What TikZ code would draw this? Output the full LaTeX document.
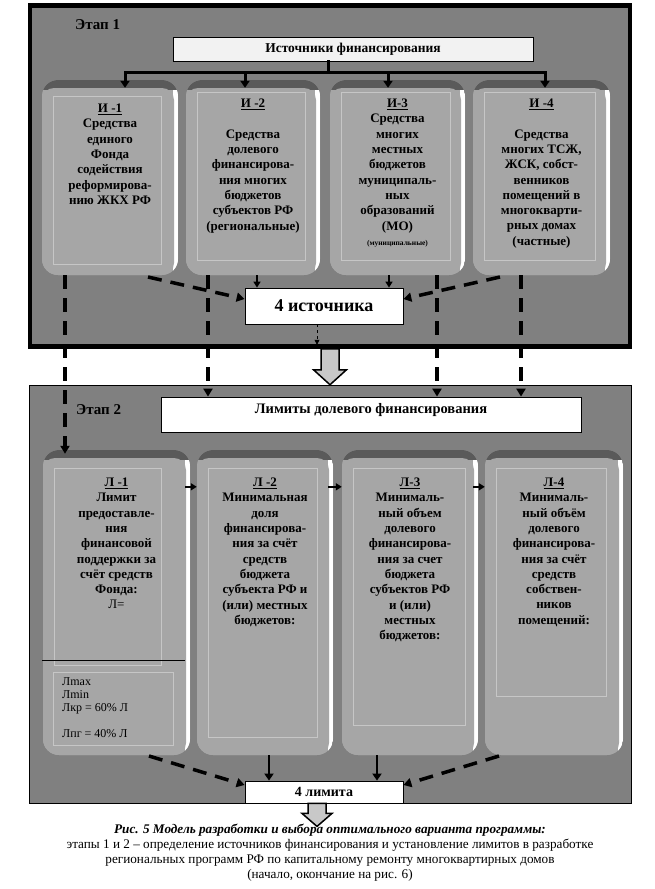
\documentclass[tikz,border=0pt]{standalone}
\usepackage{fontspec}
\setmainfont{Liberation Serif}
\usetikzlibrary{positioning,arrows.meta}

\definecolor{framegray}{HTML}{808080}
\definecolor{facegray}{HTML}{A6A6A6}
\definecolor{topgray}{HTML}{5A5A5A}
\definecolor{innerline}{HTML}{C6C6C6}
\definecolor{srcfill}{HTML}{F2F2F2}
\definecolor{arrowgray}{HTML}{C8C8C8}

\begin{document}
\begin{tikzpicture}[x=1pt, y=1pt,
    stagebox/.style={draw, fill=framegray, inner sep=0pt},
    bevel/.style n args={3}{rectangle, rounded corners=16pt, fill=facegray, inner sep=0pt,
      path picture={
        \fill[topgray, sharp corners] (path picture bounding box.north west) rectangle ([yshift=-10pt]path picture bounding box.north east);
        \fill[white, sharp corners] ([xshift=-5pt,yshift=-10pt]path picture bounding box.north east) rectangle (path picture bounding box.south east);
        \fill[facegray, rounded corners=12pt] ([yshift=-8pt]path picture bounding box.north west) rectangle ([xshift=-4pt]path picture bounding box.south east);
        \draw[innerline, sharp corners, line width=0.8pt] ([shift={(11,-#1)}]path picture bounding box.north west) rectangle ([shift={(-#2,#3)}]path picture bounding box.south east);
      }},
    ibox/.style={bevel={12}{15}{15}, minimum height=195pt},
    lbox/.style={minimum height=305pt},
    btext/.style={align=center, inner sep=0pt, font=\bfseries\fontsize{13}{15.3}\selectfont},
    whitebox/.style={draw, fill=white, inner sep=0pt, line width=0.8pt},
    stagelabel/.style={anchor=west, inner sep=0pt, font=\bfseries\fontsize{15}{17}\selectfont},
    trunk/.style={line width=3pt, line cap=rect},
    trunkarrow/.style={line width=3pt, -{Triangle[length=7pt,width=9pt]}},
    shortarrow/.style={line width=2pt, -{Triangle[length=6pt,width=7pt]}},
    dasharrow/.style={line width=3.5pt, dash pattern=on 14pt off 9pt, -{Triangle[length=8pt,width=9pt]}},
    thindash/.style={line width=0.8pt, dashed, -{Triangle[length=5pt,width=5pt]}},
    hollow/.style={draw, line width=1.5pt, fill=arrowgray, line join=miter},
  ]
\useasboundingbox (0,0) rectangle (654,-889);

% Stage 1
\node[stagebox, line width=4.5pt, minimum width=600pt, minimum height=341pt] (st1) at (330,-176) {};
\node[stagelabel] (st1lbl) at (75,-25) {Этап 1};
\node[draw, fill=srcfill, line width=0.8pt, minimum width=360pt, minimum height=24pt, inner sep=0pt,
      font=\bfseries\fontsize{13.5}{15}\selectfont] (src) at (353,-49) {Источники финансирования};

\node[ibox, minimum width=136pt, bevel={16}{17}{11}] (i1) at (110,-177.5) {};
\node[ibox, minimum width=134pt] (i2) at (253,-177.5) {};
\node[ibox, minimum width=135pt] (i3) at (397.5,-177.5) {};
\node[ibox, minimum width=137pt] (i4) at (541.5,-177.5) {};

\node[btext, below=24pt of i1.north] (i1t) {\underline{И -1}\\Средства\\единого\\Фонда\\содействия\\реформирова-\\нию ЖКХ РФ};
\node[btext, below=19pt of i2.north] (i2t) {\underline{И -2}\\[15.3pt]Средства\\долевого\\финансирова-\\ния многих\\бюджетов\\субъектов РФ\\(региональные)};
\node[btext, below=19pt of i3.north] (i3t) {\underline{И-3}\\Средства\\многих\\местных\\бюджетов\\муниципаль-\\ных\\образований\\(МО)\\{\fontsize{7.5}{9}\selectfont(муниципальные)}};
\node[btext, below=19pt of i4.north] (i4t) {\underline{И -4}\\[15.3pt]Средства\\многих ТСЖ,\\ЖСК, собст-\\венников\\помещений в\\многокварти-\\рных домах\\(частные)};

\node[whitebox, minimum width=158pt, minimum height=36pt, font=\bfseries\fontsize{18}{20}\selectfont] (q4) at (324,-306) {4 источника};

% fork from the sources header
\draw[trunk] ([xshift=-25pt]src.south) -- ++(0,-11);
\coordinate (forkl) at (125,-72);
\coordinate (forkr) at (545,-72);
\draw[trunk] (forkl) -- (forkr);
\foreach \x/\b in {125/i1, 245/i2, 388/i3, 545/i4}
  \draw[trunkarrow, shorten >=-8pt] (\x,-72) -- (\x,-72 |- \b.north);

\draw[shortarrow] (i2.south -| 257,0) -- (q4.north -| 257,0);
\draw[shortarrow] (i3.south -| 389,0) -- (q4.north -| 389,0);
\coordinate (du1) at (148,-277);
\coordinate (du2) at (500,-277);
\draw[dasharrow] (du1) -- ([yshift=7pt]q4.west);
\draw[dasharrow] (du2) -- ([yshift=7pt]q4.east);
\draw[thindash, shorten >=4pt] (q4.south -| 317,0) -- (st1.south -| 317,0);

% Stage 2
\node[stagebox, line width=1pt, minimum width=602pt, minimum height=418pt] (st2) at (330,-594) {};
\node[stagelabel] (st2lbl) at (76,-410) {Этап 2};
\node[whitebox, minimum width=420pt, minimum height=35pt, text depth=12pt,
      font=\bfseries\fontsize{14.5}{16}\selectfont] (lim) at (371,-414.5) {Лимиты долевого финансирования};

\draw[hollow] ([xshift=-9pt]st1.south) -- ++(0,-21) -- ++(-7.5,0) -- ++(16.5,-15) -- ++(16.5,15) -- ++(-7.5,0) -- ++(0,21) -- cycle;

\node[lbox, bevel={18}{29}{90}, minimum width=147pt] (l1) at (116.5,-602.5) {};
\node[lbox, bevel={18}{16}{18}, minimum width=136pt] (l2) at (265,-602.5) {};
\node[lbox, bevel={18}{13}{30}, minimum width=136pt] (l3) at (410,-602.5) {};
\node[lbox, bevel={18}{17}{59}, minimum width=138pt] (l4) at (554,-602.5) {};

\node[btext, below=28pt of l1.north] (l1t) {\underline{Л -1}\\Лимит\\предоставле-\\ния\\финансовой\\поддержки за\\счёт средств\\Фонда:\\{\mdseries Л=}};
\node[btext, below=28pt of l2.north] (l2t) {\underline{Л -2}\\Минимальная\\доля\\финансирова-\\ния за счёт\\средств\\бюджета\\субъекта РФ и\\(или) местных\\бюджетов:};
\node[btext, below=28pt of l3.north] (l3t) {\underline{Л-3}\\Минималь-\\ный объем\\долевого\\финансирова-\\ния за счет\\бюджета\\субъектов РФ\\и (или)\\местных\\бюджетов:};
\node[btext, below=28pt of l4.north] (l4t) {\underline{Л-4}\\Минималь-\\ный объём\\долевого\\финансирова-\\ния за счёт\\средств\\собствен-\\ников\\помещений:};

% lower part of L-1
\draw[line width=0.8pt] (42,-660) -- (185,-660);
\node[draw=innerline, line width=0.8pt, minimum width=120pt, minimum height=73pt, inner sep=0pt] (l1box) at (113,-708.5) {};
\node[anchor=north west, align=left, inner sep=0pt, font=\fontsize{12}{13}\selectfont] (l1notes) at (62,-677) {Лmax\\Лmin\\Лкр = 60\% Л\\[13pt]Лпг = 40\% Л};

\foreach \a/\b in {l1/l2, l2/l3, l3/l4}
  \draw[shortarrow] ([xshift=-5pt,yshift=-37pt]\a.north east) -- ([yshift=-37pt]\b.north west);

\node[whitebox, minimum width=158pt, minimum height=22pt, font=\bfseries\fontsize{14}{15}\selectfont] (lim4) at (324,-792) {4 лимита};

% links from stage 1 to stage 2
\draw[dasharrow, shorten >=-4pt] (i1.south -| 65,0) -- (l1.north -| 65,0);
\draw[dasharrow] (i2.south -| 208,0) -- (lim.north -| 208,0);
\draw[dasharrow] (i3.south -| 437,0) -- (lim.north -| 437,0);
\draw[dasharrow] (i4.south -| 521,0) -- (lim.north -| 521,0);

\draw[trunkarrow, line width=2.5pt] (l2.south -| 269,0) -- (lim4.north -| 269,0);
\draw[trunkarrow, line width=2.5pt] (l3.south -| 377,0) -- (lim4.north -| 377,0);
\coordinate (dl1) at (149,-756);
\coordinate (dl2) at (499,-756);
\draw[dasharrow] (dl1) -- ([yshift=7pt]lim4.west);
\draw[dasharrow] (dl2) -- ([yshift=7pt]lim4.east);

\draw[hollow] ([xshift=-16pt]lim4.south) -- ++(0,-10) -- ++(-6,0) -- ++(15,-13) -- ++(15,13) -- ++(-6,0) -- ++(0,10) -- cycle;

\node[anchor=north, align=center, inner sep=0pt, font=\fontsize{13.2}{15}\selectfont] (caption) at (330,-824)
  {{\bfseries\itshape Рис. 5 Модель разработки и выбора оптимального варианта программы:}\\
   этапы 1 и 2 – определение источников финансирования и установление лимитов в разработке\\
   региональных программ РФ по капитальному ремонту многоквартирных домов\\
   (начало, окончание на рис. 6)};
\end{tikzpicture}
\end{document}
